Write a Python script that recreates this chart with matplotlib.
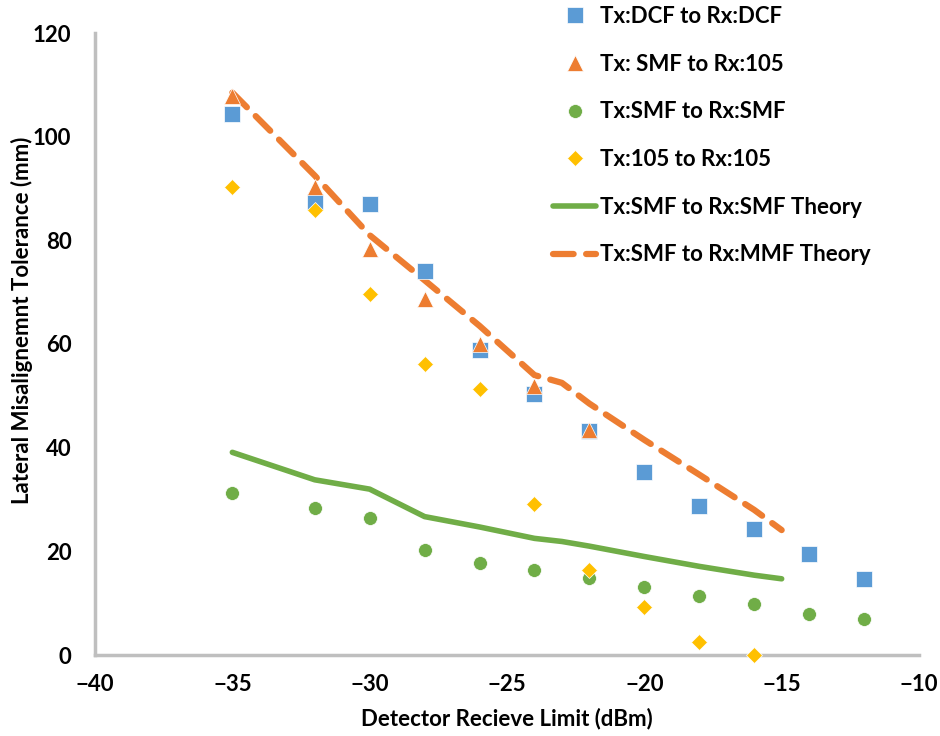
import numpy as np
import matplotlib.pyplot as plt

plt.rcParams['font.family'] = ['Lato', 'DejaVu Sans']
plt.rcParams['font.weight'] = 'bold'

# measured data
x_meas = [-35, -32, -30, -28, -26, -24, -22, -20, -18, -16, -14, -12]
dcf_dcf = [104.4, 87.3, 87.0, 74.1, 58.9, 50.4, 43.2, 35.3, 28.8, 24.3, 19.5, 14.7]
smf_smf = [31.3, 28.4, 26.4, 20.3, 17.8, 16.4, 14.9, 13.1, 11.4, 9.8, 7.9, 6.9]

x_smf105 = [-35, -32, -30, -28, -26, -24, -22]
smf_105 = [107.9, 90.2, 78.4, 68.7, 60.0, 51.9, 43.4]

x_105 = [-35, -32, -30, -28, -26, -24, -22, -20, -18, -16]
mm105_105 = [90.3, 85.9, 69.7, 56.2, 51.4, 29.2, 16.4, 9.3, 2.5, 0.0]

# theory curves
x_theory = [-35, -32, -30, -28, -26, -24, -23, -22, -20, -18, -16, -15]
smf_theory = [39.1, 33.8, 32.0, 26.7, 24.7, 22.5, 21.9, 21.0, 19.0, 17.1, 15.4, 14.7]
mmf_theory = [108.5, 92.5, 81.0, 72.3, 63.5, 54.0, 52.5, 48.5, 41.5, 34.8, 28.0, 24.1]

blue = '#5B9BD5'
orange = '#ED7D31'
green = '#70AD47'
yellow = '#FFC000'

fig = plt.figure(figsize=(9.4, 7.36), dpi=100)
ax = fig.add_axes([95 / 940, 81 / 736, 824 / 940, 622 / 736])

ax.plot(x_theory, smf_theory, color=green, lw=4, solid_capstyle='round',
        label='Tx:SMF to Rx:SMF Theory', zorder=2)
ax.plot(x_theory, mmf_theory, color=orange, lw=4.5, ls=(0, (3.3, 2)),
        dash_capstyle='round', label='Tx:SMF to Rx:MMF Theory', zorder=2)

ax.plot(x_meas, dcf_dcf, 's', color=blue, ms=11, mec='white', mew=0.5,
        label='Tx:DCF to Rx:DCF', zorder=3)
ax.plot(x_smf105, smf_105, '^', color=orange, ms=12, mec='white', mew=0.5,
        label='Tx: SMF to Rx:105', zorder=4)
ax.plot(x_meas, smf_smf, 'o', color=green, ms=10, mec='white', mew=0.5,
        label='Tx:SMF to Rx:SMF', zorder=3)
ax.plot(x_105, mm105_105, 'D', color=yellow, ms=8, mec='white', mew=0.5,
        label='Tx:105 to Rx:105', zorder=3, clip_on=False)

ax.set_xlim(-40, -10)
ax.set_ylim(0, 120)
ax.set_xticks(np.arange(-40, -9, 5))
ax.set_yticks(np.arange(0, 121, 20))
ax.tick_params(length=0, labelsize=16)
ax.tick_params(axis='x', pad=14)
ax.tick_params(axis='y', pad=17)

for s in ['top', 'right']:
    ax.spines[s].set_visible(False)
for s in ['left', 'bottom']:
    ax.spines[s].set_color('#BFBFBF')
    ax.spines[s].set_linewidth(2.5)

ax.set_xlabel('Detector Recieve Limit (dBm)', fontsize=16, fontweight='bold', labelpad=9)
fig.text(22 / 940, 1 - 320 / 736, 'Lateral Misalignemnt Tolerance (mm)',
         rotation=90, ha='center', va='center', fontsize=16, fontweight='bold')

handles, labels = ax.get_legend_handles_labels()
order = [2, 3, 4, 5, 0, 1]
leg = ax.legend([handles[i] for i in order], [labels[i] for i in order],
                loc='upper left', bbox_to_anchor=(553 / 940, 1 - 6 / 736),
                bbox_transform=fig.transFigure, frameon=False,
                fontsize=16, labelspacing=1.2, handlelength=1.95,
                handletextpad=0.15, borderpad=0, borderaxespad=0)

fig.savefig('out.png', dpi=100)
